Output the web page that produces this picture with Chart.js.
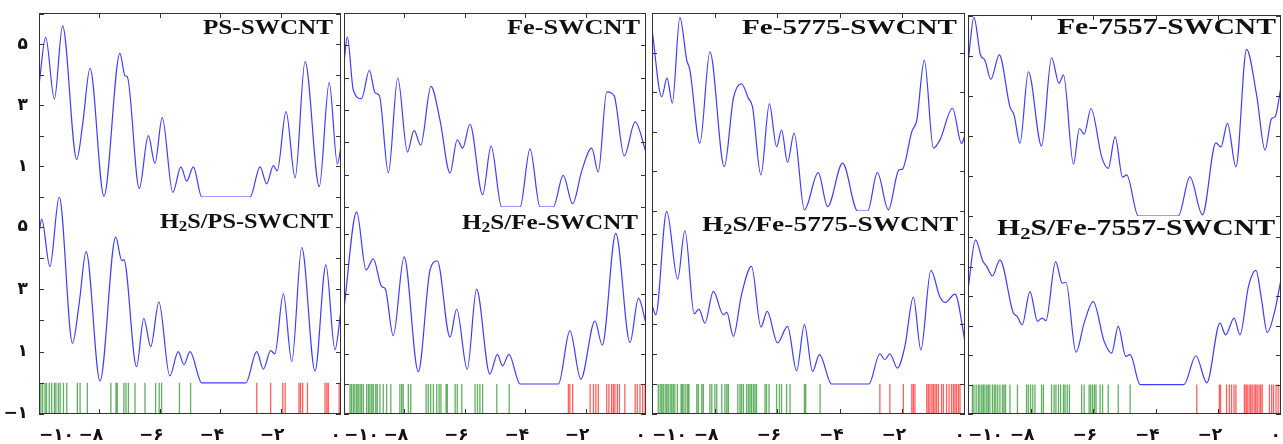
<!DOCTYPE html>
<html>
<head>
<meta charset="utf-8">
<script src="https://cdn.jsdelivr.net/npm/chart.js@4.4.1/dist/chart.umd.min.js"></script>
<style>
  html, body { margin: 0; padding: 0; background: #fff; width: 1283px; height: 444px; overflow: hidden; }
  canvas { position: absolute; }
</style>
</head>
<body>
<script>
// Energy axis (eV), every panel runs from -10 to 0
const xTickValues = [-10, -8, -6, -4, -2, 0];
const xTickLabels = ['−۱۰', '−۸\u2003', '−۶\u2003', '−۴\u2003', '−۲\u2003', '۰'];
const yTickValues = [5, 3, 1, -1];
const yTickLabels = ['۵', '۳', '۱', '−۱'];

const titlesTop = ['PS-SWCNT', 'Fe-SWCNT', 'Fe-5775-SWCNT', 'Fe-7557-SWCNT'];
const titlesBottom = ['H₂S/PS-SWCNT', 'H₂S/Fe-SWCNT', 'H₂S/Fe-5775-SWCNT', 'H₂S/Fe-7557-SWCNT'];

// DOS of the bare tubes (top row) at peaks and valleys
const ePS = [-10, -9.78, -9.49, -9.22, -8.75, -8.55, -8.31, -7.85, -7.32, -7.15, -7.08, -6.68, -6.38, -6.16, -5.92, -5.57, -5.30, -5.11, -4.89, -4.61, -3.01, -2.68, -2.46, -2.24, -2.11, -1.82, -1.52, -1.19, -0.72, -0.39, -0.12, 0];
const dosPS = [3.67, 5.23, 3.21, 5.61, 1.23, 2.42, 4.22, 0.03, 4.71, 3.97, 3.95, 0.28, 2.01, 1.10, 2.60, 0.15, 0.99, 0.52, 0.99, 0, 0, 0.99, 0.43, 1.03, 0.86, 2.80, 0.63, 4.44, 0.34, 3.75, 1.08, 1.65];

const eFe = [-10, -9.89, -9.69, -9.42, -9.16, -8.97, -8.83, -8.53, -8.22, -7.90, -7.68, -7.46, -7.12, -6.82, -6.49, -6.25, -6.07, -5.83, -5.41, -5.13, -4.78, -4.17, -3.84, -3.51, -3.07, -2.74, -2.43, -2.13, -1.80, -1.58, -1.30, -1.06, -0.72, -0.36, 0];
const dosFe = [4.48, 5.26, 3.61, 3.35, 4.23, 3.53, 3.45, 1.06, 3.99, 1.70, 2.37, 1.91, 3.73, 2.68, 1.05, 2.08, 1.82, 2.56, 0.38, 1.88, 0, 0, 1.80, 0, 0, 0.98, 0.10, 1.11, 1.82, 1.08, 3.56, 3.45, 1.58, 2.63, 1.70];

const eFe5775 = [-10, -9.69, -9.52, -9.35, -9.11, -8.89, -8.79, -8.47, -8.15, -7.69, -7.40, -7.14, -6.92, -6.79, -6.52, -6.25, -6.02, -5.86, -5.67, -5.46, -5.13, -4.69, -4.39, -3.91, -3.43, -3.11, -2.80, -2.45, -2.11, -2.00, -1.70, -1.54, -1.30, -1.01, -0.80, -0.40, -0.11, 0];
const dosFe5775 = [4.60, 2.89, 3.36, 2.73, 4.90, 3.82, 3.57, 1.71, 4.03, 1.12, 2.85, 3.22, 2.85, 2.64, 0.91, 2.71, 1.63, 2.05, 1.23, 1.97, 0.03, 0.97, 0.11, 1.21, 0, 0, 0.97, 0.03, 1.04, 1.06, 2.01, 2.30, 3.82, 1.59, 1.80, 2.60, 1.71, 1.92];

const eFe7557 = [-10, -9.81, -9.60, -9.46, -9.27, -9.00, -8.66, -8.53, -8.34, -8.07, -7.65, -7.33, -7.09, -6.95, -6.63, -6.44, -6.29, -6.07, -5.73, -5.52, -5.30, -5.06, -4.93, -4.56, -3.28, -2.91, -2.51, -2.08, -1.92, -1.71, -1.44, -1.10, -0.78, -0.51, -0.30, -0.19, 0];
const dosFe7557 = [3.82, 4.97, 4.03, 3.90, 3.42, 4.03, 2.73, 2.53, 1.82, 3.61, 1.75, 3.96, 3.32, 3.53, 1.30, 2.19, 2.05, 2.69, 1.48, 1.19, 1.98, 0.97, 1.03, 0, 0, 0.98, 0.03, 1.83, 1.73, 2.32, 1.23, 4.17, 3.03, 1.65, 2.44, 2.48, 3.23];

// DOS after H2S adsorption (bottom row)
const eH2sPS = [-10, -9.91, -9.64, -9.33, -8.89, -8.67, -8.44, -7.98, -7.46, -7.26, -7.19, -6.77, -6.53, -6.30, -6.03, -5.67, -5.39, -5.20, -5.00, -4.61, -3.15, -2.79, -2.57, -2.33, -2.19, -1.91, -1.63, -1.30, -0.86, -0.50, -0.20, 0];
const dosH2sPS = [4.80, 5.25, 3.73, 5.97, 1.27, 2.55, 4.21, 0.06, 4.67, 3.92, 3.95, 0.52, 2.07, 1.16, 2.59, 0.22, 1.00, 0.58, 1.00, 0, 0, 1.00, 0.44, 1.03, 0.93, 2.85, 0.68, 4.34, 0.38, 3.78, 1.06, 2.34];

const eH2sFe = [-10, -9.58, -9.27, -9.03, -8.75, -8.64, -8.37, -8.01, -7.54, -7.15, -6.91, -6.49, -6.27, -5.92, -5.61, -5.17, -4.92, -4.75, -4.54, -4.17, -2.90, -2.52, -2.16, -1.69, -1.45, -1.00, -0.53, -0.25, 0];
const dosH2sFe = [2.52, 5.74, 3.80, 4.17, 3.24, 3.19, 1.61, 4.24, 0.41, 3.80, 4.10, 1.56, 2.50, 0.49, 3.16, 0.33, 0.99, 0.60, 0.99, 0, 0, 1.78, 0.16, 2.10, 1.30, 5.02, 1.38, 2.86, 2.02];

const eH2sFe5775 = [-10, -9.88, -9.53, -9.18, -8.95, -8.65, -8.50, -8.31, -8.04, -7.72, -7.61, -7.40, -7.14, -6.82, -6.52, -6.32, -5.99, -5.67, -5.38, -5.13, -4.87, -4.65, -4.26, -3.07, -2.72, -2.56, -2.40, -2.16, -1.92, -1.65, -1.41, -1.09, -0.80, -0.64, -0.32, 0];
const dosH2sFe5775 = [2.64, 2.31, 5.76, 3.50, 5.12, 2.34, 2.50, 2.03, 3.09, 2.31, 2.39, 1.59, 2.98, 3.92, 1.90, 2.42, 1.37, 1.92, 0.44, 1.98, 0.42, 0.98, 0, 0, 1.01, 0.81, 1.01, 0.53, 1.26, 2.90, 1.14, 3.79, 2.90, 2.72, 3.00, 1.42];

const eH2sFe7557 = [-10, -9.76, -9.53, -9.40, -9.22, -8.98, -8.55, -8.43, -8.27, -8.02, -7.78, -7.63, -7.51, -7.20, -6.99, -6.87, -6.55, -6.29, -6.00, -5.65, -5.41, -5.20, -4.96, -4.82, -4.50, -3.10, -2.72, -2.37, -1.95, -1.77, -1.50, -1.31, -1.04, -0.80, -0.62, -0.44, -0.19, 0];
const dosH2sFe7557 = [3.22, 4.92, 4.21, 4.01, 3.69, 4.24, 2.43, 2.32, 2.03, 3.16, 2.15, 2.26, 2.17, 4.18, 3.45, 3.47, 1.10, 2.09, 2.82, 1.47, 1.07, 1.98, 0.96, 1.02, 0, 0, 0.98, 0.06, 2.09, 1.69, 2.26, 1.69, 3.33, 3.88, 2.88, 1.77, 2.54, 3.58];

// Molecular orbital levels of the H2S systems: occupied (green) and virtual (red)
const occPS = [-9.99, -9.94, -9.88, -9.80, -9.75, -9.66, -9.58, -9.49, -9.44, -9.36, -9.30, -9.19, -9.08, -8.73, -8.64, -8.40, -7.62, -7.45, -7.41, -7.19, -7.12, -7.04, -6.82, -6.49, -6.14, -6.02, -5.94, -5.35, -4.98];
const virtPS = [-2.79, -2.33, -1.93, -1.85, -1.39, -1.34, -1.27, -1.11, -0.53, -0.47, -0.42, -0.06];
const occFe = [-9.80, -9.75, -9.69, -9.64, -9.58, -9.53, -9.47, -9.42, -9.36, -9.25, -9.19, -9.14, -9.08, -9.03, -8.95, -8.90, -8.81, -8.70, -8.59, -8.45, -8.15, -8.09, -8.04, -7.87, -7.79, -7.28, -7.21, -7.13, -7.04, -6.93, -6.85, -6.79, -6.62, -6.58, -6.32, -6.25, -6.10, -5.66, -5.58, -5.50, -5.41, -4.94, -4.53];
const virtFe = [-2.57, -2.52, -2.43, -1.85, -1.74, -1.66, -1.58, -1.30, -1.23, -1.14, -1.08, -1.03, -0.95, -0.88, -0.70, -0.36, -0.29, -0.20, -0.11, -0.03];
const occFe5775 = [-9.80, -9.74, -9.69, -9.64, -9.58, -9.53, -9.48, -9.42, -9.37, -9.32, -9.27, -9.19, -9.07, -9.03, -8.98, -8.92, -8.86, -8.82, -8.57, -8.52, -8.41, -8.36, -8.15, -8.09, -7.99, -7.93, -7.77, -7.67, -7.61, -7.56, -7.26, -7.19, -7.14, -7.08, -6.98, -6.92, -6.87, -6.82, -6.76, -6.71, -6.66, -6.39, -6.34, -6.26, -6.02, -5.93, -5.86, -5.70, -5.59, -5.13, -5.09, -4.63];
const virtFe5775 = [-2.72, -2.40, -1.97, -1.70, -1.65, -1.60, -1.22, -1.17, -1.12, -1.06, -1.01, -0.96, -0.91, -0.85, -0.75, -0.69, -0.59, -0.51, -0.43, -0.37, -0.32, -0.27, -0.21, -0.16];
const occFe7557 = [-9.86, -9.81, -9.74, -9.67, -9.62, -9.56, -9.51, -9.46, -9.40, -9.35, -9.30, -9.22, -9.16, -9.11, -9.05, -8.98, -8.90, -8.85, -8.80, -8.66, -8.42, -8.13, -8.07, -8.00, -7.93, -7.86, -7.65, -7.59, -7.33, -7.25, -7.19, -7.11, -7.04, -6.95, -6.90, -6.83, -6.76, -6.37, -6.29, -6.13, -6.08, -6.02, -5.96, -5.91, -5.78, -5.70, -5.52, -5.20, -4.82];
const virtFe7557 = [-2.69, -1.97, -1.93, -1.74, -1.65, -1.58, -1.50, -1.44, -1.17, -1.12, -1.08, -1.02, -0.97, -0.92, -0.86, -0.81, -0.76, -0.70, -0.65, -0.60, -0.37, -0.30, -0.24, -0.16, -0.09, -0.02];

// page geometry of the four columns (plot-area edges in px) and their y ranges
const columns = [
  { left: 39, right: 341, top: 13, split: 197, bottom: 414, yTop: [0, 6.03], yBot: [-1, 5.96], tTop: [203, 333, 34, 21], tBot: [160, 333, 228, 20] },
  { left: 344, right: 646, top: 13, split: 207, bottom: 414, yTop: [0, 6.0], yBot: [-1, 5.9], tTop: [507, 640, 34, 21], tBot: [462, 638, 229, 20] },
  { left: 652, right: 965, top: 13, split: 211, bottom: 414, yTop: [0, 5.01], yBot: [-1, 5.77], tTop: [742, 957, 34, 21], tBot: [702, 958, 231, 21] },
  { left: 968, right: 1281, top: 15, split: 216, bottom: 414, yTop: [0, 5.03], yBot: [-1, 5.73], tTop: [1057, 1276, 34, 24], tBot: [997, 1275, 235, 23] }
];

const topCurves = [[ePS, dosPS], [eFe, dosFe], [eFe5775, dosFe5775], [eFe7557, dosFe7557]];
const bottomCurves = [[eH2sPS, dosH2sPS], [eH2sFe, dosH2sFe], [eH2sFe5775, dosH2sFe5775], [eH2sFe7557, dosH2sFe7557]];
const levelSets = [[occPS, virtPS], [occFe, virtFe], [occFe5775, virtFe5775], [occFe7557, virtFe7557]];

const tickFont = { family: 'DejaVu Sans', size: 17, weight: 'bold' };

// each level is a stick from 0 down to the floor of the axis
function levelPoints(levels) {
  const pts = [];
  levels.forEach(e => { pts.push({ x: e, y: 0 }, { x: e, y: -1 }, { x: e, y: null }); });
  return pts;
}

// draws the title, the "2" of H2S as a subscript, stretched to the box width
function drawTitle(ctx, text, box, offX, offY) {
  const [left, right, base, size] = box;
  const big = `bold ${size}px "Liberation Serif"`;
  const small = `bold ${Math.round(size * 0.68)}px "Liberation Serif"`;
  const segs = [];
  text.split('₂').forEach((p, i) => {
    if (i > 0) segs.push({ t: '2', f: small, dy: size * 0.16 });
    segs.push({ t: p, f: big, dy: 0 });
  });
  let w = 0;
  segs.forEach(s => { ctx.font = s.f; s.w = ctx.measureText(s.t).width; w += s.w; });
  ctx.save();
  ctx.translate(left - offX, base - offY);
  ctx.scale((right - left) / w, 1);
  ctx.fillStyle = '#111';
  ctx.textBaseline = 'alphabetic';
  let x = 0;
  segs.forEach(s => { ctx.font = s.f; ctx.fillText(s.t, x, s.dy); x += s.w; });
  ctx.restore();
}

// box lines and inward tick marks, like the original plots
function makeFrame(sides, title, box, offX, offY) {
  return {
    id: 'frame',
    afterDatasetsDraw(chart) {
      const { ctx, chartArea: a, scales } = chart;
      ctx.save();
      ctx.strokeStyle = '#333';
      ctx.lineWidth = 1;
      ctx.beginPath();
      if (sides.includes('t')) { ctx.moveTo(a.left, a.top + 0.5); ctx.lineTo(a.right, a.top + 0.5); }
      if (sides.includes('b')) { ctx.moveTo(a.left, a.bottom - 0.5); ctx.lineTo(a.right, a.bottom - 0.5); }
      ctx.moveTo(a.left + 0.5, a.top); ctx.lineTo(a.left + 0.5, a.bottom);
      ctx.moveTo(a.right - 0.5, a.top); ctx.lineTo(a.right - 0.5, a.bottom);
      xTickValues.slice(1, -1).forEach(v => {
        const px = Math.round(scales.x.getPixelForValue(v)) + 0.5;
        if (sides.includes('t')) { ctx.moveTo(px, a.top); ctx.lineTo(px, a.top + 5); }
        if (sides.includes('b')) { ctx.moveTo(px, a.bottom); ctx.lineTo(px, a.bottom - 5); }
      });
      for (let v = Math.ceil(scales.y.min); v <= scales.y.max; v++) {
        const py = Math.round(scales.y.getPixelForValue(v)) + 0.5;
        ctx.moveTo(a.left, py); ctx.lineTo(a.left + 5, py);
        ctx.moveTo(a.right, py); ctx.lineTo(a.right - 5, py);
      }
      ctx.stroke();
      ctx.restore();
      drawTitle(ctx, title, box, offX, offY);
    }
  };
}

function buildPanel(colIdx, isTop) {
  const c = columns[colIdx];
  const showY = colIdx === 0;
  const showX = !isTop;
  const area = { left: c.left, right: c.right, top: isTop ? c.top : c.split, bottom: isTop ? c.split : c.bottom };
  // room around the plot area, wide enough that axis labels never squeeze it
  const padL = showY ? 39 : 40, padT = 32, padR = 20, padB = 32;

  const canvas = document.createElement('canvas');
  canvas.width = area.right - area.left + padL + padR;
  canvas.height = area.bottom - area.top + padT + padB;
  const offX = area.left - padL, offY = area.top - padT;
  canvas.style.left = offX + 'px';
  canvas.style.top = offY + 'px';
  document.body.appendChild(canvas);

  const [es, dos] = isTop ? topCurves[colIdx] : bottomCurves[colIdx];
  const datasets = [{
    data: es.map((x, i) => ({ x, y: dos[i] })),
    borderColor: 'rgba(40,40,255,0.9)',
    borderWidth: 1.2,
    pointRadius: 0,
    cubicInterpolationMode: 'monotone',
    fill: false
  }];
  if (!isTop) {
    const [occ, virt] = levelSets[colIdx];
    datasets.push(
      { data: levelPoints(occ), borderColor: 'rgba(0,128,0,0.62)', borderWidth: 1.3, pointRadius: 0, tension: 0, spanGaps: false },
      { data: levelPoints(virt), borderColor: 'rgba(255,0,0,0.62)', borderWidth: 1.3, pointRadius: 0, tension: 0, spanGaps: false }
    );
  }
  const yr = isTop ? c.yTop : c.yBot;

  const xScale = {
    type: 'linear', min: -10, max: 0, display: showX,
    grid: { display: false, drawTicks: false }, border: { display: false },
    afterBuildTicks: s => { s.ticks = xTickValues.map(v => ({ value: v })); },
    ticks: { padding: 11, align: 'inner', color: '#111', font: tickFont, maxRotation: 0, autoSkip: false,
             callback: v => xTickLabels[xTickValues.indexOf(v)] }
  };
  if (showX) xScale.afterFit = s => { s.height = padB; };

  const yScale = {
    type: 'linear', min: yr[0], max: yr[1], display: showY,
    grid: { display: false, drawTicks: false }, border: { display: false },
    afterBuildTicks: s => { s.ticks = yTickValues.filter(v => v >= yr[0] && v <= yr[1]).map(v => ({ value: v })); },
    ticks: { padding: 11, color: '#111', font: tickFont,
             callback: v => yTickLabels[yTickValues.indexOf(v)] }
  };
  if (showY) yScale.afterFit = s => { s.width = padL; };

  return new Chart(canvas, {
    type: 'line',
    data: { datasets },
    options: {
      responsive: false,
      animation: false,
      devicePixelRatio: 1,
      layout: { padding: { left: showY ? 0 : padL, top: padT, right: padR, bottom: showX ? 0 : padB } },
      plugins: { legend: { display: false }, tooltip: { enabled: false } },
      scales: { x: xScale, y: yScale }
    },
    plugins: [makeFrame(isTop ? 'tlr' : 'blr', isTop ? titlesTop[colIdx] : titlesBottom[colIdx], isTop ? c.tTop : c.tBot, offX, offY)]
  });
}

for (let k = 0; k < columns.length; k++) {
  buildPanel(k, true);
  buildPanel(k, false);
}
</script>
</body>
</html>
